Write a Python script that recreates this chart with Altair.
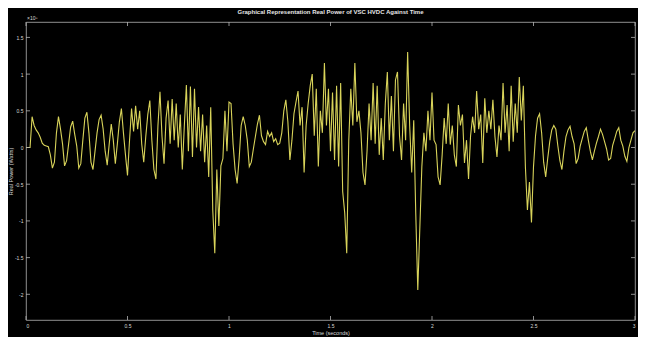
import altair as alt
import numpy as np
import pandas as pd

# Real power samples (x 1e8 W), one every 0.01 s from 0 to 3 s
seg_a = [0, 0, 0, 0.42, 0.30, 0.24, 0.20, 0.14, 0.06, 0.03,
         0.02, 0.01, -0.10, -0.28, -0.20, 0.20, 0.42, 0.25, 0.05, -0.25,
         -0.18, 0.05, 0.28, 0.36, 0.18, 0.02, -0.28, -0.22, 0.10, 0.40,
         0.48, 0.20, -0.20, -0.30, -0.05, 0.20, 0.38, 0.44, 0.25, -0.05,
         -0.24, 0.05, 0.32, 0.10, -0.22, 0.05, 0.35, 0.53, 0.20, -0.10,
         -0.38, 0.10, 0.53]
seg_b = [0.22, 0.57, 0.25, 0.50, 0.05, -0.20, 0.15,
         0.45, 0.64, 0.10, -0.30, -0.43, 0.30, 0.76, 0.15, -0.22, 0.40,
         0.64, 0.05, 0.66, 0.10, 0.60, 0.00, 0.45, -0.30, 0.30, 0.85,
         -0.05, 0.83, -0.13, 0.80, 0.00, 0.55, -0.05, 0.45, -0.20, 0.30,
         -0.40, 0.55, -0.85, -1.44, -0.30, -1.07, -0.25, -0.15, 0.50, -0.05,
         0.62]
seg_c = [0.60, 0.05, -0.30, -0.49, -0.15, 0.30, 0.42, 0.30, 0.10,
         -0.26, -0.20, -0.02, 0.15, 0.32, 0.44, 0.16, 0.08, 0.04, 0.22,
         0.15, 0.20, 0.08, 0.12, 0.04, 0.06, 0.20, 0.50, 0.65, 0.35,
         -0.17, 0.10, 0.46, 0.62, 0.77, 0.30, 0.55, -0.34, 0.30, 0.60,
         0.84, 1.00, 0.16, 0.80, -0.26, 0.50, 0.20, 1.15, 0.30, 0.80,
         -0.05, 0.75, -0.17, 0.84, -0.26, 0.88]
seg_d = [-0.60, -0.89, -1.44, 0.10,
         0.80, 0.30, 1.15, 0.35, 0.50, 0.20, -0.34, -0.51, -0.05, 0.60,
         0.10, 0.88, 0.05, 0.84, -0.10, 0.40, -0.17, 0.60, 1.03, 0.10,
         0.70, -0.05, 0.92, 1.03, 0.16, -0.17, 0.60, 0.10, 1.30, 0.30,
         -0.34, 0.37, -0.90, -1.94, -1.10, -0.26, 0.20, -0.05, 0.50, 0.10,
         0.75, 0.10, 0.04, -0.40, -0.51, -0.10]
seg_e = [0.40, 0.05, 0.60, 0.04,
         0.30, -0.10, -0.26, 0.58, 0.30, 0.45, -0.21, 0.10, -0.43, 0.16,
         0.42, 0.20, 0.77, 0.25, 0.45, -0.21, 0.67, 0.20, 0.50, 0.25,
         0.65, 0.15, -0.13, 0.30, 0.10, 0.88, 0.20, 0.58, -0.05, 0.84,
         0.08, 0.60, 0.20, 0.96, 0.37, 0.84, -0.26, -0.85, -0.47, -1.02,
         -0.26, 0.16, 0.40, 0.46]
seg_f = [0.20, -0.20, -0.40, -0.15, 0.08, 0.24,
         0.30, 0.25, 0.02, -0.18, -0.30, -0.05, 0.15, 0.24, 0.29, 0.15,
         0.05, -0.22, -0.15, 0.02, 0.12, 0.22, 0.27, 0.10, -0.05, -0.17,
         -0.05, 0.06, 0.15, 0.25, 0.18, 0.08, -0.02, -0.17, -0.15, 0.03,
         0.12, 0.22, 0.27, 0.10, 0.02, -0.12, -0.19, 0.00, 0.10, 0.20,
         0.23]

power = seg_a + seg_b + seg_c + seg_d + seg_e + seg_f
time = np.round(np.linspace(0, 3, len(power)), 4)

x_ticks = [0, 0.5, 1, 1.5, 2, 2.5, 3]
y_ticks = [-2, -1.5, -1, -0.5, 0, 0.5, 1, 1.5]

title_text = "Graphical Representation Real Power of VSC HVDC Against Time"
exp_label = "×10⁸"

df = pd.DataFrame({"t": time, "p": power})
xt = pd.DataFrame({"t": x_ticks})
yt = pd.DataFrame({"p": y_ticks})

W, H = 609, 298
AX = "#b4b4b4"
LINE = "#d8d35a"
TXT = "#d8d8d8"
FONT = "Liberation Sans"

xs = alt.Scale(domain=[0, 3], nice=False, zero=False)
ys = alt.Scale(domain=[-2.35, 1.71], nice=False, zero=False)

lbl = "datum.value < 0 ? '-' + format(-datum.value, '~g') : format(datum.value, '~g')"

x_axis = alt.Axis(values=x_ticks, title="Time (seconds)", labelExpr=lbl,
                  domain=False, ticks=False, grid=False, labelPadding=3, titlePadding=2)
y_axis = alt.Axis(values=y_ticks, title="Real Power (Watts)", labelExpr=lbl,
                  domain=False, ticks=False, grid=False, labelPadding=3, titlePadding=1)

X = alt.X("t:Q", scale=xs, axis=x_axis)
Y = alt.Y("p:Q", scale=ys, axis=y_axis)

line = alt.Chart(df).mark_line(color=LINE, strokeWidth=1.1, clip=True).encode(x=X, y=Y)

tick_l = alt.Chart(yt).mark_rule(color=AX, strokeWidth=0.8).encode(
    y=Y, x=alt.value(0), x2=alt.value(4))
tick_r = alt.Chart(yt).mark_rule(color=AX, strokeWidth=0.8).encode(
    y=Y, x=alt.value(W - 4), x2=alt.value(W))
tick_b = alt.Chart(xt).mark_rule(color=AX, strokeWidth=0.8).encode(
    x=X, y=alt.value(H), y2=alt.value(H - 4))
tick_t = alt.Chart(xt).mark_rule(color=AX, strokeWidth=0.8).encode(
    x=X, y=alt.value(0), y2=alt.value(4))

exp_text = alt.Chart(pd.DataFrame({"s": [exp_label]})).mark_text(
    align="left", baseline="bottom", fontSize=5, color=TXT, font=FONT
).encode(x=alt.value(1), y=alt.value(-1), text="s:N")

chart = alt.layer(line, tick_l, tick_r, tick_b, tick_t, exp_text).properties(
    width=W, height=H,
    title=alt.TitleParams(title_text, fontSize=6, fontWeight="bold", color="#e6e6e6",
                          font=FONT, offset=1, anchor="middle"),
    autosize=alt.AutoSizeParams(type="none"),
    padding={"left": 18, "top": 14, "right": 3, "bottom": 17},
    background="#000000",
).configure_view(
    stroke=AX, strokeWidth=0.8
).configure_axis(
    labelFont=FONT, titleFont=FONT, labelFontSize=5, titleFontSize=5.5,
    labelColor=TXT, titleColor=TXT, titleFontWeight="normal"
)

chart.save("out.html", embed_options={"renderer": "svg", "actions": False})
